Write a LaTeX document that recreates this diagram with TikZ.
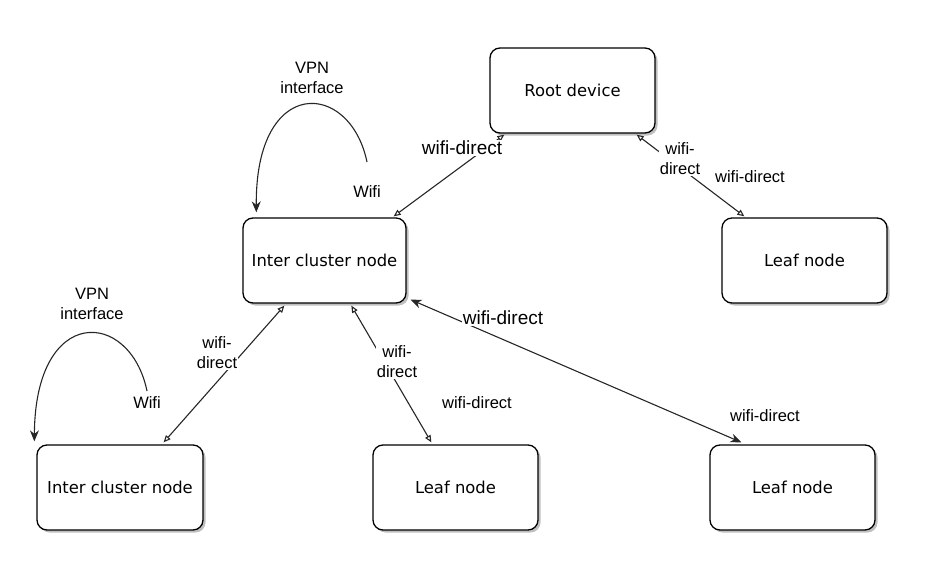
\documentclass[tikz,border=0pt]{standalone}
\usepackage{fontspec}
\setmainfont{Liberation Sans}
\newfontfamily\boxfont{DejaVu Sans}
\usetikzlibrary{arrows.meta,shadows,calc}
\begin{document}
\begin{tikzpicture}[x=1pt,y=-1pt,
  box/.style={draw=black,line width=1.3pt,rounded corners=10pt,fill=white,
    minimum width=165pt,minimum height=85pt,inner sep=0pt,
    font=\boxfont\fontsize{16.4}{20}\selectfont,
    drop shadow={shadow xshift=2.5pt,shadow yshift=-2.5pt,opacity=0.25,fill=black}},
  conn/.style={draw=black!85,line width=1.1pt},
  oboth/.style={{Triangle[open,length=7pt,width=6pt]}-{Triangle[open,length=7pt,width=6pt]}},
  fboth/.style={{Stealth[length=11pt,width=9pt]}-{Stealth[length=11pt,width=9pt]}},
  fend/.style={-{Stealth[length=11pt,width=9pt]}},
  lbl/.style={font=\fontsize{16.5}{20}\selectfont,align=center,inner sep=1pt},
  elbl/.style={lbl,fill=white},
  bigelbl/.style={font=\fontsize{19}{22}\selectfont,inner sep=1pt,fill=white}
]
\useasboundingbox (0,0) rectangle (930,584);

\node[box] (root) at (572.5,90.5) {Root device};
\node[box,minimum width=163pt] (ic1) at (324.5,260.5) {Inter cluster node};
\node[box] (leaf1) at (804.5,260.5) {Leaf node};
\node[box,minimum width=166pt] (ic2) at (120,487.5) {Inter cluster node};
\node[box] (leaf2) at (455.5,487.5) {Leaf node};
\node[box] (leaf3) at (792.5,487.5) {Leaf node};

% connectors
\draw[conn,oboth] ($(root.south west)+(15,1)$) -- ($(ic1.north east)+(-13,-1)$);
\draw[conn,oboth] ($(root.south east)+(-19,1)$) -- ($(leaf1.north west)+(23,-1)$);
\draw[conn,oboth] ($(ic1.south west)+(42,2)$) -- ($(ic2.north east)+(-40,-2)$);
\draw[conn,oboth] ($(ic1.south west)+(109,2)$) -- ($(leaf2.north west)+(59,-2)$);
\draw[conn,fboth] ($(ic1.south east)+(4,-4)$) -- ($(leaf3.north west)+(32,-2)$);

% VPN loops
\coordinate (w1) at (367,162);
\draw[conn,fend] (w1) .. controls (350,80) and (255,75) .. ($(ic1.north west)+(14,-5)$);
\coordinate (w2) at (147,391);
\draw[conn,fend] (w2) .. controls (130,309) and (35,304) .. ($(ic2.north west)+(-2,-3)$);

% labels
\node[bigelbl] (l1) at (462,148) {wifi-direct};
\node[bigelbl] (l5) at (503,318) {wifi-direct};
\node[elbl] (l2) at (680,159) {wifi-\\direct};
\node[elbl] (l3) at (217,353) {wifi-\\direct};
\node[elbl] (l4) at (397,362) {wifi-\\direct};
\node[lbl] (f1) at (750,177) {wifi-direct};
\node[lbl] (f2) at (477,403) {wifi-direct};
\node[lbl] (f3) at (765,416) {wifi-direct};
\node[lbl] (v1) at (312,78) {VPN\\interface};
\node[lbl] (v2) at (92,304) {VPN\\interface};
\node[lbl] (wf1) at (367,192) {Wifi};
\node[lbl] (wf2) at (147,403) {Wifi};
\end{tikzpicture}
\end{document}
